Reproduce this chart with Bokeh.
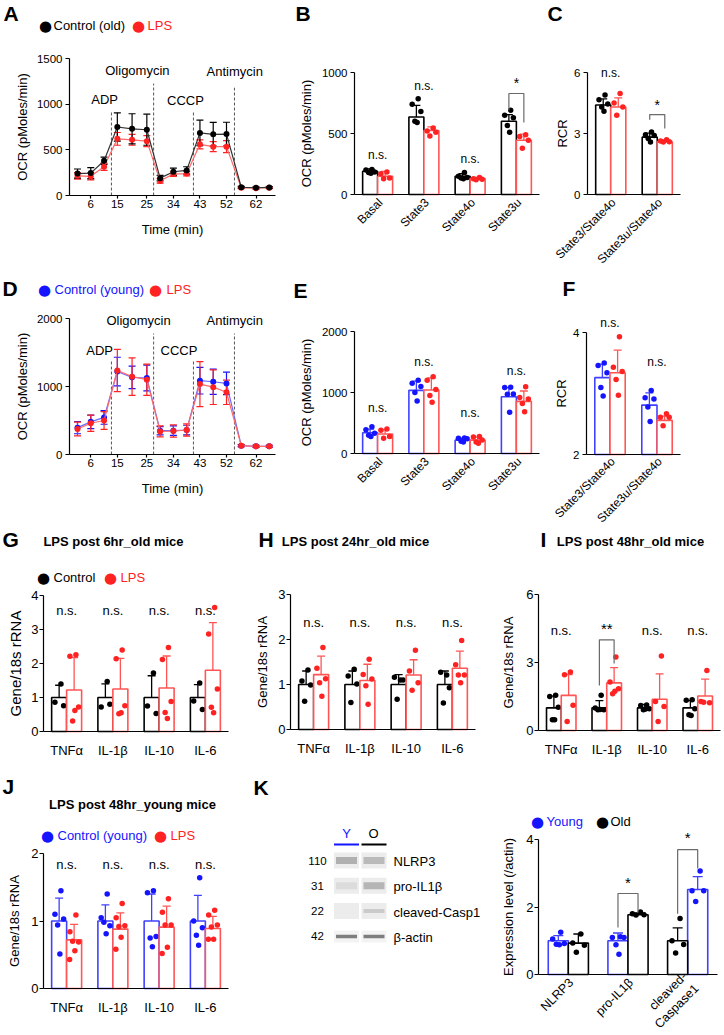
import math
from bokeh.plotting import figure
from bokeh.models import Range1d, FixedTicker, Label, ColumnDataSource, Whisker, TeeHead
from bokeh.layouts import row, column
from bokeh.embed import file_html
from bokeh.resources import INLINE

FONT = "Liberation Sans"
DOT_FONT = "DejaVu Sans"
BLACK = "#000000"
RED = "#ff2222"
RED_L = "#ff5555"
BLUE = "#1414ff"
BLUE_L = "#4040ff"
GRAY = "#6a6a6a"

# ======================= DATA =======================
ocr_time = [1.5, 6, 10.5, 15, 20, 25, 29.5, 34, 38.5, 43, 47.5, 52, 57, 62, 66.5]
ocr_ticks = [6, 15, 25, 34, 43, 52, 62]
inject_names = ["ADP", "Oligomycin", "CCCP", "Antimycin"]
inject_time = [13.0, 27.3, 40.8, 54.7]

a_ctrl = [240, 245, 380, 750, 730, 720, 190, 260, 275, 685, 670, 672, 90, 85, 88]
a_ctrl_sd = [50, 60, 40, 155, 165, 170, 30, 40, 40, 140, 130, 130, 10, 10, 10]
a_lps = [215, 210, 315, 620, 610, 595, 160, 235, 240, 560, 535, 535, 85, 80, 85]
a_lps_sd = [35, 40, 40, 70, 60, 60, 25, 25, 25, 50, 55, 65, 10, 10, 10]

d_ctrl = [395, 480, 545, 1220, 1135, 1125, 350, 350, 360, 1085, 1070, 1045, 130, 120, 120]
d_ctrl_sd = [90, 100, 100, 210, 165, 190, 60, 70, 70, 195, 185, 165, 15, 15, 15]
d_lps = [375, 460, 500, 1235, 1145, 1100, 340, 345, 360, 1035, 990, 915, 130, 120, 120]
d_lps_sd = [100, 120, 130, 310, 275, 230, 80, 90, 90, 330, 255, 180, 15, 15, 15]

ocr_cats = ["Basal", "State3", "State4o", "State3u"]
rcr_cats = ["State3/State4o", "State3u/State4o"]

b_ctrl = [190, 635, 150, 600]
b_ctrl_sd = [20, 95, 20, 55]
b_ctrl_pts = [[205, 200, 185, 180, 175], [785, 740, 680, 600, 590], [180, 150, 140, 135, 130], [690, 650, 630, 565, 510]]
b_lps = [150, 525, 130, 445]
b_lps_sd = [40, 30, 10, 50]
b_lps_pts = [[185, 170, 135, 130], [545, 520, 510, 480], [140, 130, 125, 120], [490, 475, 445, 380]]

c_ctrl = [4.4, 2.82]
c_ctrl_sd = [0.3, 0.2]
c_ctrl_pts = [[4.89, 4.66, 4.45, 4.3, 4.1], [3.07, 2.94, 2.9, 2.75, 2.58]]
c_lps = [4.3, 2.6]
c_lps_sd = [0.45, 0.05]
c_lps_pts = [[4.97, 4.5, 4.3, 3.9], [2.69, 2.63, 2.6, 2.58]]

e_ctrl = [340, 1035, 220, 930]
e_ctrl_sd = [60, 150, 30, 150]
e_ctrl_pts = [[440, 390, 330, 300, 280], [1200, 1150, 1100, 1000, 860], [255, 250, 240, 200, 190], [1085, 1080, 975, 970, 675]]
e_lps = [320, 1040, 220, 855]
e_lps_sd = [70, 200, 50, 170]
e_lps_pts = [[400, 380, 280, 250], [1260, 1200, 1050, 950, 840], [280, 270, 220, 190, 170], [1095, 920, 895, 820, 685]]

f_ctrl = [3.26, 2.81]
f_ctrl_sd = [0.22, 0.2]
f_ctrl_pts = [[3.50, 3.46, 3.34, 3.10, 2.96], [3.05, 2.93, 2.91, 2.78, 2.54]]
f_lps = [3.34, 2.56]
f_lps_sd = [0.37, 0.07]
f_lps_pts = [[3.93, 3.43, 3.36, 3.23, 2.97], [2.67, 2.61, 2.61, 2.47]]

gene_cats = ["TNFα", "IL-1β", "IL-10", "IL-6"]

g_ctrl = [1.0, 1.0, 1.0, 1.0]
g_ctrl_sd = [0.36, 0.4, 0.64, 0.38]
g_ctrl_pts = [[1.40, 0.86, 0.76], [1.47, 0.72, 0.80], [1.72, 0.75, 0.53], [1.43, 0.90, 0.65]]
g_lps = [1.22, 1.25, 1.28, 1.8]
g_lps_sd = [0.95, 0.9, 0.94, 1.4]
g_lps_pts = [[2.26, 2.21, 0.72, 0.31, 0.62], [2.40, 2.14, 0.76, 0.52, 0.55], [2.47, 2.12, 0.88, 0.56, 0.38], [3.65, 2.87, 1.25, 0.71, 0.55]]

h_ctrl = [1.0, 1.0, 1.0, 1.0]
h_ctrl_sd = [0.3, 0.3, 0.22, 0.3]
h_ctrl_pts = [[1.32, 1.08, 0.99, 0.63], [1.34, 1.19, 1.01, 0.60], [1.10, 1.16, 1.10, 0.67], [1.21, 1.27, 0.93, 0.59]]
h_lps = [1.22, 1.09, 1.21, 1.36]
h_lps_sd = [0.41, 0.36, 0.34, 0.38]
h_lps_pts = [[1.82, 1.36, 1.13, 1.04, 0.74], [1.56, 1.22, 1.12, 0.97, 0.56], [1.76, 1.30, 1.04, 0.87], [1.98, 1.44, 1.21, 1.21, 1.04]]

i_ctrl = [1.0, 1.0, 1.0, 1.0]
i_ctrl_sd = [0.52, 0.32, 0.15, 0.32]
i_ctrl_pts = [[1.55, 1.50, 1.03, 0.47, 0.47], [1.55, 0.99, 0.91, 0.91, 0.93], [1.12, 1.10, 0.96, 0.91, 0.95], [1.36, 1.33, 0.96, 0.69, 0.66]]
i_lps = [1.55, 2.1, 1.38, 1.52]
i_lps_sd = [0.92, 0.67, 1.12, 0.75]
i_lps_pts = [[2.58, 2.46, 1.11, 0.40], [3.24, 2.14, 1.84, 1.62, 1.73], [3.29, 1.28, 1.06, 0.40], [2.65, 1.28, 1.22, 1.25]]

j_ctrl = [1.0, 1.0, 1.0, 1.0]
j_ctrl_sd = [0.34, 0.24, 0.4, 0.38]
j_ctrl_pts = [[1.45, 1.10, 1.03, 0.94, 0.51], [1.40, 1.05, 0.93, 0.98, 0.81], [1.45, 1.42, 0.77, 0.75, 0.62], [1.64, 1.00, 0.90, 0.79, 0.64]]
j_lps = [0.72, 0.88, 0.91, 0.89]
j_lps_sd = [0.23, 0.24, 0.31, 0.18]
j_lps_pts = [[1.09, 0.84, 0.69, 0.70, 0.56, 0.43], [1.26, 1.05, 0.93, 0.92, 0.76, 0.58], [1.33, 1.13, 0.94, 0.94, 0.61, 0.52], [1.16, 1.09, 0.94, 0.91, 0.73, 0.73]]

blot_rows = ["NLRP3", "pro-IL1β", "cleaved-Casp1", "β-actin"]
blot_mw = ["110", "31", "22", "42"]
blot_young = [0.55, 0.15, 0.0, 1.0]
blot_old = [0.45, 0.5, 0.3, 1.0]

k_cats = ["NLRP3", "pro-IL1β", "cleaved-\nCaspase1"]
k_young = [1.0, 1.0, 2.52]
k_young_sd = [0.15, 0.23, 0.38]
k_young_pts = [[1.25, 1.05, 0.92, 0.9, 0.88], [1.12, 1.1, 1.1, 0.88, 0.6], [3.07, 2.48, 2.48, 2.16]]
k_old = [0.93, 1.77, 1.0]
k_old_sd = [0.27, 0.05, 0.38]
k_old_pts = [[1.2, 0.93, 0.87, 0.66], [1.85, 1.8, 1.77, 1.76], [1.66, 1.0, 0.89, 0.64]]
k_young_first = [True, True, False]

# ======================= HELPERS =======================
JIT = [0.12, -0.28, 0.3, -0.1, 0.05, -0.3]


def lin_range(c0, c1, d1, p1, d2, p2):
    """Range whose start maps to page pixel c0 and end to c1, given data d1->p1 and d2->p2."""
    k = (d2 - d1) / (p2 - p1)
    return Range1d(d1 + (c0 - p1) * k, d1 + (c1 - p1) * k)


def new_fig(box, xmap, ymap, xbounds=None, ybounds=None, axes=True, tick_px="11.5px"):
    """box = (x0, y0, w, h) in page px; xmap/ymap = (d1, p1, d2, p2). The whole canvas is the frame."""
    x0, y0, w, h = box
    xr = lin_range(x0, x0 + w, *xmap)
    yr = lin_range(y0 + h, y0, *ymap)
    kw = {}
    if not axes:
        kw = dict(x_axis_location=None, y_axis_location=None)
    p = figure(width=w, height=h, x_range=xr, y_range=yr, output_backend="svg",
               toolbar_location=None, title=None, min_border_left=0, min_border_right=0,
               min_border_top=0, min_border_bottom=0, **kw)
    p.outline_line_color = None
    p.grid.visible = False
    if axes:
        p.xaxis.fixed_location = ybounds[0]
        p.yaxis.fixed_location = xbounds[0]
        p.xaxis.bounds = xbounds
        p.yaxis.bounds = ybounds
        for ax in (p.xaxis[0], p.yaxis[0]):
            ax.axis_line_color = BLACK
            ax.axis_line_width = 1.2
            ax.major_tick_line_color = BLACK
            ax.major_tick_line_width = 1.2
            ax.major_tick_in = 0
            ax.major_tick_out = 4
            ax.minor_tick_line_color = None
            ax.major_label_text_font = FONT
            ax.major_label_text_font_size = tick_px
            ax.major_label_text_color = BLACK
            ax.major_label_standoff = 3
            ax.axis_label_text_font = FONT
            ax.axis_label_text_font_style = "normal"
            ax.axis_label_text_font_size = "13px"
            ax.axis_label_text_color = BLACK
    return p, (x0, y0 + h)


def txt(p, org, px, py, s, size=13, color=BLACK, align="left", bold=False, font=FONT):
    p.add_layout(Label(x=px - org[0], y=org[1] - py, x_units="screen", y_units="screen", text=s,
                       text_font=font, text_font_size=f"{size}px", text_color=color,
                       text_align=align, text_baseline="middle",
                       text_font_style="bold" if bold else "normal"))


def dtxt(p, x, y, s, size=12, color=BLACK):
    p.add_layout(Label(x=x, y=y, text=s, text_font=FONT, text_font_size=f"{size}px",
                       text_color=color, text_align="center", text_baseline="middle"))


def letter(p, org, px, py, s):
    txt(p, org, px, py, s, size=21, bold=True)


def legend(p, org, py, items, size=13):
    for (dx, tx, label, col) in items:
        txt(p, org, dx, py + 0.5, "●", size=15, color=col, align="center", font=DOT_FONT)
        txt(p, org, tx, py, label, size=size, color=col)


def whiskers(p, xs, ys, sds, color, cap=8, lw=1.3):
    src = ColumnDataSource(dict(x=list(xs), lo=[y - s for y, s in zip(ys, sds)],
                                hi=[y + s for y, s in zip(ys, sds)]))
    p.add_layout(Whisker(source=src, base="x", lower="lo", upper="hi", line_color=color, line_width=lw,
                         upper_head=TeeHead(size=cap, line_color=color, line_width=lw),
                         lower_head=TeeHead(size=cap, line_color=color, line_width=lw)))


def bars(p, xs, vals, sds, pts, bw, bar_color, pt_color, base=0, cap=8, psize=5.5):
    p.vbar(x=xs, top=vals, bottom=base, width=bw, fill_color="white", line_color=bar_color, line_width=1.6)
    whiskers(p, xs, vals, sds, bar_color, cap)
    jx, jy = [], []
    for x, grp in zip(xs, pts):
        for j, v in enumerate(grp):
            jx.append(x + JIT[j % len(JIT)] * bw)
            jy.append(v)
    p.scatter(jx, jy, size=psize, color=pt_color, line_color=None)


def bracket(p, x1, x2, y1, y2, top):
    p.multi_line(xs=[[x1, x1, x2, x2]], ys=[[y1, top, top, y2]], line_color=GRAY, line_width=1.2)


def cat_axis(p, cats, size="13px", standoff=11):
    p.xaxis.ticker = FixedTicker(ticks=list(range(len(cats))))
    p.xaxis.major_label_overrides = {i: c for i, c in enumerate(cats)}
    p.xaxis.major_tick_out = 0
    p.xaxis.major_label_standoff = standoff
    p.xaxis.major_label_text_font_size = size


def rot_cat_axis(p, org, cats, axis_y, size="12px"):
    p.xaxis.ticker = FixedTicker(ticks=[])
    for i, c in enumerate(cats):
        p.add_layout(Label(x=i, y=org[1] - (axis_y + 6), x_units="data", y_units="screen", text=c,
                           angle=math.pi / 4, text_align="right", text_baseline="middle",
                           text_font=FONT, text_font_size=size, text_color=BLACK, x_offset=3))


def seahorse(p, y, sd, color, line_color, cap=7):
    p.line(ocr_time, y, line_color=line_color, line_width=1.2)
    whiskers(p, ocr_time, y, sd, color, cap, 1.2)
    p.scatter(ocr_time, y, size=6, color=color, line_color=None)


def ocr_axes(p, ticks):
    p.yaxis.ticker = FixedTicker(ticks=ticks)
    p.xaxis.ticker = FixedTicker(ticks=ocr_ticks)
    p.yaxis.axis_label = "OCR (pMoles/min)"
    p.xaxis.axis_label = "Time (min)"
    p.yaxis.axis_label_standoff = 4
    p.xaxis.major_tick_out = 3
    p.xaxis.major_label_standoff = 1
    p.xaxis.axis_label_standoff = 11


def inject(p, heights, lab_t, lab_y):
    p.segment(x0=inject_time, y0=[0] * 4, x1=inject_time, y1=heights, line_dash="3 2",
              line_color="#555555", line_width=1)
    for name, t, y in zip(inject_names, lab_t, lab_y):
        dtxt(p, t, y, name, size=13)


OFF = 0.162
BW = 0.324
xs4 = list(range(4))
xs2 = [0, 1]
T_AX = (-1.21, 68.6)           # time-axis extent
T_MAP = (1.5, 77, 62, 255.5)   # time -> page x

# ======================= ROW 1 (page y 0-272) =======================
pA, oA = new_fig((0, 0, 285, 272), T_MAP, (0, 195, 1500, 58), T_AX, (0, 1500))
ocr_axes(pA, [0, 500, 1000, 1500])
inject(pA, [930, 1225, 910, 1180], [10.7, 21.8, 38.1, 54.8], [1050, 1370, 1040, 1360])
seahorse(pA, a_lps, a_lps_sd, RED, "#ff6a6a")
seahorse(pA, a_ctrl, a_ctrl_sd, BLACK, "#333333")
letter(pA, oA, 3, 12.5, "A")
legend(pA, oA, 25, [(45, 53, "Control (old)", BLACK), (138, 147, "LPS", RED)])

pB, oB = new_fig((285, 0, 260, 272), (-0.5, 354, 3.5, 539), (0, 194, 1000, 72), (-0.5, 3.5), (0, 1000))
pB.yaxis.ticker = FixedTicker(ticks=[0, 500, 1000])
pB.yaxis.axis_label = "OCR (pMoles/min)"
pB.yaxis.axis_label_standoff = 5
rot_cat_axis(pB, oB, ocr_cats, 194)
bars(pB, [x - OFF for x in xs4], b_ctrl, b_ctrl_sd, b_ctrl_pts, BW, BLACK, BLACK)
bars(pB, [x + OFF for x in xs4], b_lps, b_lps_sd, b_lps_pts, BW, RED_L, RED)
for x, y, s in zip(xs4, [320, 893, 295, 918], ["n.s.", "n.s.", "n.s.", "*"]):
    dtxt(pB, x, y, s, size=12 if s == "n.s." else 14)
bracket(pB, 3 - OFF, 3 + OFF, 690, 590, 828)
letter(pB, oB, 295, 12.5, "B")

pC, oC = new_fig((545, 0, 179, 272), (-0.5, 587, 1.5, 680), (0, 194, 6, 72), (-0.5, 1.5), (0, 6))
pC.yaxis.ticker = FixedTicker(ticks=[0, 3, 6])
pC.yaxis.axis_label = "RCR"
pC.yaxis.axis_label_standoff = 1
rot_cat_axis(pC, oC, rcr_cats, 194)
bars(pC, [x - OFF for x in xs2], c_ctrl, c_ctrl_sd, c_ctrl_pts, BW, BLACK, BLACK)
bars(pC, [x + OFF for x in xs2], c_lps, c_lps_sd, c_lps_pts, BW, RED_L, RED)
dtxt(pC, 0, 6.0, "n.s.", 12)
dtxt(pC, 1, 4.38, "*", 14)
bracket(pC, 1 - OFF, 1 + OFF, 3.68, 3.24, 3.93)
letter(pC, oC, 547, 12.5, "C")

# ======================= ROW 2 (page y 272-524) =======================
R2 = (272, 252)
pD, oD = new_fig((0, R2[0], 285, R2[1]), T_MAP, (0, 454, 2000, 318), T_AX, (0, 2000))
ocr_axes(pD, [0, 1000, 2000])
inject(pD, [1382, 1779, 1397, 1779], [9.0, 22.2, 35.9, 54.8], [1529, 1970, 1529, 1970])
seahorse(pD, d_ctrl, d_ctrl_sd, BLUE, "#6a6aff")
seahorse(pD, d_lps, d_lps_sd, RED, "#ff6a6a")
letter(pD, oD, 2, 288, "D")
legend(pD, oD, 289, [(44, 54, "Control (young)", BLUE), (155, 166, "LPS", RED)])

pE, oE = new_fig((285, R2[0], 260, R2[1]), (-0.5, 354, 3.5, 539), (0, 453, 2000, 331), (-0.5, 3.5), (0, 2000))
pE.yaxis.ticker = FixedTicker(ticks=[0, 1000, 2000])
pE.yaxis.axis_label = "OCR (pMoles/min)"
pE.yaxis.axis_label_standoff = 5
rot_cat_axis(pE, oE, ocr_cats, 453)
bars(pE, [x - OFF for x in xs4], e_ctrl, e_ctrl_sd, e_ctrl_pts, BW, BLUE_L, BLUE)
bars(pE, [x + OFF for x in xs4], e_lps, e_lps_sd, e_lps_pts, BW, RED_L, RED)
for x, y in zip(xs4, [754, 1492, 656, 1360]):
    dtxt(pE, x, y, "n.s.", 12)
letter(pE, oE, 293, 290, "E")

pF, oF = new_fig((545, R2[0], 179, R2[1]), (-0.5, 586, 1.5, 680), (2, 454, 4, 332), (-0.5, 1.5), (2, 4))
pF.yaxis.ticker = FixedTicker(ticks=[2, 4])
pF.yaxis.axis_label = "RCR"
pF.yaxis.axis_label_standoff = 1
rot_cat_axis(pF, oF, rcr_cats, 453)
bars(pF, [x - OFF for x in xs2], f_ctrl, f_ctrl_sd, f_ctrl_pts, BW, BLUE_L, BLUE, base=2)
bars(pF, [x + OFF for x in xs2], f_lps, f_lps_sd, f_lps_pts, BW, RED_L, RED, base=2)
dtxt(pF, 0, 4.15, "n.s.", 12)
dtxt(pF, 1, 3.51, "n.s.", 12)
letter(pF, oF, 562, 288, "F")


# ======================= ROW 3 (page y 524-768) =======================
def gene_panel(box, xmap, ymap, ymax, ticks, ctrl, ctrl_sd, ctrl_pts, lps, lps_sd, lps_pts,
               ctrl_bar, ctrl_pt, ylab_size=13, ylab_standoff=5):
    p, o = new_fig(box, xmap, ymap, (-0.5, 3.5), (0, ymax), tick_px="13px")
    p.yaxis.ticker = FixedTicker(ticks=ticks)
    p.yaxis.major_label_standoff = 1
    p.yaxis.axis_label = "Gene/18s rRNA"
    p.yaxis.axis_label_text_font_size = f"{ylab_size}px"
    p.yaxis.axis_label_standoff = ylab_standoff
    cat_axis(p, gene_cats, size="13px", standoff=11)
    bars(p, [x - OFF for x in xs4], ctrl, ctrl_sd, ctrl_pts, BW, ctrl_bar, ctrl_pt)
    bars(p, [x + OFF for x in xs4], lps, lps_sd, lps_pts, BW, RED_L, RED)
    return p, o


R3 = (524, 244)
pG, oG = gene_panel((0, R3[0], 240, R3[1]), (-0.5, 43, 3.5, 228), (0, 731, 4, 595), 4, [0, 1, 2, 3, 4],
                    g_ctrl, g_ctrl_sd, g_ctrl_pts, g_lps, g_lps_sd, g_lps_pts, BLACK, BLACK,
                    ylab_size=15, ylab_standoff=4)
for x in xs4:
    dtxt(pG, x, 3.56, "n.s.", 13)
letter(pG, oG, 2, 539, "G")
txt(pG, oG, 113, 541, "LPS post 6hr_old mice", size=13, bold=True, align="center")
legend(pG, oG, 577, [(43, 53, "Control", BLACK), (110, 120, "LPS", RED)])

pH, oH = gene_panel((240, R3[0], 240, R3[1]), (-0.5, 290, 3.5, 475), (0, 729, 3, 594), 3, [0, 1, 2, 3],
                    h_ctrl, h_ctrl_sd, h_ctrl_pts, h_lps, h_lps_sd, h_lps_pts, BLACK, BLACK, ylab_standoff=5)
for x in xs4:
    dtxt(pH, x, 2.38, "n.s.", 13)
letter(pH, oH, 258, 539, "H")
txt(pH, oH, 355, 541, "LPS post 24hr_old mice", size=13, bold=True, align="center")

pI, oI = gene_panel((480, R3[0], 244, R3[1]), (-0.5, 538, 3.5, 720), (0, 730, 6, 594), 6, [0, 3, 6],
                    i_ctrl, i_ctrl_sd, i_ctrl_pts, i_lps, i_lps_sd, i_lps_pts, BLACK, BLACK, ylab_standoff=7)
for x, s in zip(xs4, ["n.s.", "**", "n.s.", "n.s."]):
    dtxt(pI, x, 4.41 if s == "n.s." else 4.5, s, 13 if s == "n.s." else 15)
bracket(pI, 1 - OFF, 1 + OFF, 1.98, 2.96, 4.0)
letter(pI, oI, 540, 539, "I")
txt(pI, oI, 630, 541, "LPS post 48hr_old mice", size=13, bold=True, align="center")

# ======================= ROW 4 (page y 768-1035) =======================
pJ, oJ = gene_panel((0, 768, 250, 267), (-0.5, 43, 3.5, 228), (0, 988, 2, 853), 2, [0, 1, 2],
                    j_ctrl, j_ctrl_sd, j_ctrl_pts, j_lps, j_lps_sd, j_lps_pts, BLUE_L, BLUE, ylab_standoff=6)
for x in xs4:
    dtxt(pJ, x, 1.84, "n.s.", 13)
letter(pJ, oJ, 2, 786, "J")
txt(pJ, oJ, 132, 804, "LPS post 48hr_young mice", size=13, bold=True, align="center")
legend(pJ, oJ, 835, [(47, 57, "Control (young)", BLUE), (160, 170, "LPS", RED)])

# western blot (page-pixel coordinates inside its own canvas)
pK, oK = new_fig((250, 768, 230, 267), (0, 0, 1, 1), (0, 0, 1, -1), axes=False)
pK.x_range = Range1d(250, 480)
pK.y_range = Range1d(1035, 768)
lane_x = [346, 373.5]
row_y = [860 + 25.3 * i for i in range(4)]


def gray(v):
    g = int(round(236 - 110 * v))
    return "#%02x%02x%02x" % (g, g, g)


for i, (yv, yo) in enumerate(zip(blot_young, blot_old)):
    is_actin = i == 3
    bg_h = 12 if is_actin else 16
    band_h = 3.5 if is_actin else (7 if i < 2 else 4)
    bg = "#f3f3f3" if is_actin else "#ececec"
    pK.rect(x=lane_x, y=[row_y[i]] * 2, width=25, height=bg_h, fill_color=bg, line_color=None)
    pK.rect(x=lane_x, y=[row_y[i]] * 2, width=21, height=band_h, fill_color=[gray(yv), gray(yo)],
            line_color=None)
    txt(pK, oK, 317, row_y[i], blot_mw[i], size=11.5, align="center")
    txt(pK, oK, 393, row_y[i] + 1, blot_rows[i], size=13)
txt(pK, oK, 346, 833, "Y", size=13, color=BLUE, align="center")
txt(pK, oK, 373, 833, "O", size=13, color=BLACK, align="center")
pK.segment(x0=[lane_x[0] - 12.5, lane_x[1] - 12.5], y0=[844, 844],
           x1=[lane_x[0] + 12.5, lane_x[1] + 12.5], y1=[844, 844],
           line_color=[BLUE, BLACK], line_width=2)
letter(pK, oK, 253, 787, "K")

# expression bar chart
KOFF = 0.168
KBW = 0.337
pKr, oKr = new_fig((480, 768, 244, 267), (-0.5, 538, 2.5, 717), (0, 974, 4, 839), (-0.5, 2.5), (0, 4),
                   tick_px="13px")
pKr.yaxis.ticker = FixedTicker(ticks=[0, 2, 4])
pKr.yaxis.major_label_standoff = 1
pKr.yaxis.axis_label = "Expression level (/actin)"
pKr.yaxis.axis_label_standoff = 7
rot_cat_axis(pKr, oKr, k_cats, 974, size="12.5px")
yx = [i - KOFF if f else i + KOFF for i, f in enumerate(k_young_first)]
ox = [i + KOFF if f else i - KOFF for i, f in enumerate(k_young_first)]
bars(pKr, yx, k_young, k_young_sd, k_young_pts, KBW, BLUE_L, BLUE, cap=10)
bars(pKr, ox, k_old, k_old_sd, k_old_pts, KBW, BLACK, BLACK, cap=10)
bracket(pKr, 1 - KOFF, 1 + KOFF, 1.39, 1.84, 2.4)
dtxt(pKr, 1, 2.72, "*", 15)
bracket(pKr, 2 - KOFF, 2 + KOFF, 1.8, 3.14, 3.7)
dtxt(pKr, 2, 4.05, "*", 15)
legend(pKr, oKr, 821, [(537, 546, "Young", BLUE), (602, 610, "Old", BLACK)])

layout = column(row(pA, pB, pC), row(pD, pE, pF), row(pG, pH, pI), row(pJ, pK, pKr))
open("out.html", "w").write(file_html(layout, INLINE))
